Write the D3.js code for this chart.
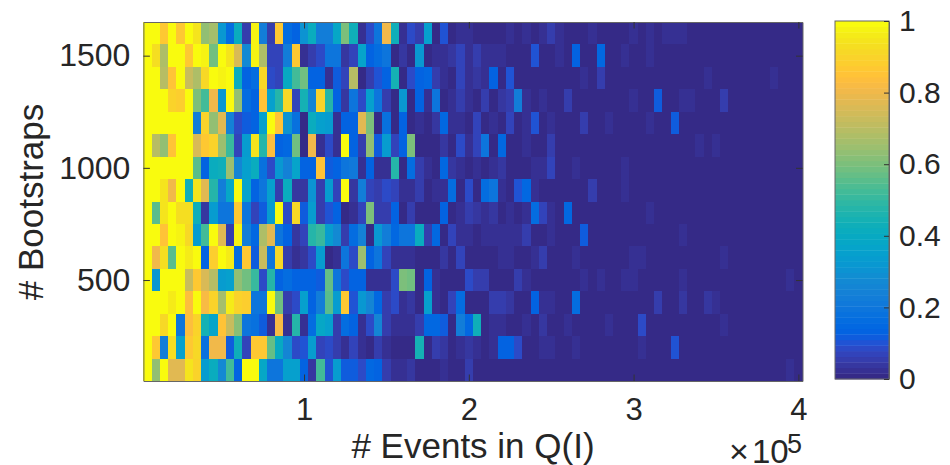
<!DOCTYPE html>
<html>
<head>
<meta charset="utf-8">
<script src="https://d3js.org/d3.v7.min.js"></script>
<style>
body { margin: 0; background: #fff; }
text { font-family: "Liberation Sans", Arial, sans-serif; fill: #262626; }
.axis path { stroke: #666; }
.axis line { stroke: #333; }
.axis text { font-size: 31px; fill: #262626; font-family: "Liberation Sans", Arial, sans-serif; }
</style>
</head>
<body>
<svg class="chart" width="950" height="465"></svg>
<script>
// bootstraps per row, top row first. each row has 80 event bins (5000, 10000 ... 400000)
var bootstraps = [1600,1500,1400,1300,1200,1100,1000,900,800,700,600,500,400,300,200,100];
var binSize = 5000;
var xTicks = [100000,200000,300000,400000];
var yTicks = [500,1000,1500];
var barTicks = [0,0.2,0.4,0.6,0.8,1];

var values = [
// 1600
[1,1,.87,1,.87,1,.95,.63,.66,.32,.17,.42,.05,.98,.22,.06,.87,.16,.14,.3,.42,.22,.22,.38,.6,.43,.02,.08,
 .2,.8,.43,.03,.09,.05,.35,.01,.1,.01,.02,.02,.005,.005,.005,.005,.02,.005,.02,.005,.02,.06,.02,.005,.005,.01,.02,
 0,0,0,0,.02,0,.02,0,.03,.03,.03,0,0,0,0,0,0,0,0,0,0,0,0,0,0],
// 1500
[1,.93,.68,1,1,.87,1,.97,.58,1,.95,.75,.28,.97,.68,.07,.07,.22,.87,.02,.06,.09,.2,.2,.04,.07,.36,.13,
 .17,.2,.01,.04,.01,.32,.005,.02,.02,.04,.07,.02,.05,.03,.03,.03,.01,0,0,.1,0,0,.02,0,.14,0,0,
 .15,0,0,.02,0,0,.02,0,0,0,0,0,0,0,0,0,0,0,0,0,0,0,0,0,0],
// 1400
[1,1,.7,.85,1,.72,.68,.92,1,.98,1,.42,.14,.16,.92,.08,.07,.4,.53,.58,.13,.13,.03,.11,.07,.7,.01,.06,
 .1,.13,.45,.005,.08,.13,.15,.05,.03,.01,.07,.02,.04,.03,.14,.01,.1,0,0,0,0,.01,0,0,0,.02,0,
 .05,0,0,0,0,0,0,0,0,0,0,0,0,.02,0,0,0,0,0,0,0,.02,0,0,0],
// 1300
[1,1,1,.9,.88,1,.6,.52,.8,.32,1,.64,.16,.14,.85,.35,.47,.92,.07,.45,.25,.9,.47,.13,.04,.2,.08,.35,
 .2,.05,.005,.32,.01,.13,.02,.19,.005,.02,.06,.03,.01,.06,.005,.04,.06,.22,.03,.005,.03,0,0,.06,0,0,0,
 0,0,0,0,.02,0,0,.11,0,0,.03,.02,0,0,0,.06,0,0,0,0,0,0,0,0,0],
// 1200
[1,1,1,1,1,1,.22,.9,.63,.77,.24,.09,.11,.13,.35,1,.85,.3,.18,.01,.42,.35,.34,.02,.13,.13,.78,.6,
 .01,.18,.01,.13,.005,.02,.01,.04,.15,.03,.03,.01,.07,.01,.03,.005,.07,.005,.03,.1,.01,.02,0,0,0,.05,0,
 0,.02,0,0,0,0,.02,0,0,.12,0,0,0,0,0,0,0,0,0,0,0,0,0,0,0],
// 1100
[1,.7,.63,.85,1,1,.75,.86,.9,.65,.5,.07,.33,.95,.48,.84,.13,.15,.58,.01,.8,.02,.08,.02,1,.13,.05,.64,
 .12,.33,.07,.14,.6,.005,.005,.005,.04,.005,.08,.03,.07,.19,0,.15,0,0,.02,0,0,.05,0,0,0,0,0,
 0,0,0,0,0,0,0,0,0,0,0,0,.02,0,.02,0,0,0,0,0,0,0,0,0,0],
// 1000
[1,1,1,1,1,1,.55,.14,.42,.43,.65,.25,.35,.41,.18,.08,.32,.24,.36,.13,.13,.85,.11,.13,.2,.21,.02,.13,
 .02,.03,.47,.005,.16,.05,.02,.005,.15,.04,.02,.01,.02,.01,.02,.04,0,0,0,.03,.03,.07,0,0,.02,0,0,
 0,0,0,.03,0,0,0,0,0,0,0,0,0,0,0,0,0,0,0,0,0,0,0,0,0],
// 900
[1,1,.95,.8,1,.43,.95,.78,.48,.22,.38,1,.37,.14,.2,.35,.05,.42,.04,.04,.3,.05,.33,.07,1,.04,.22,.07,
 .05,.08,.07,.02,.02,.06,.005,.02,.03,.17,.01,.09,.005,.17,.2,.02,0,.1,.15,.03,0,0,.01,0,0,0,.05,
 0,0,0,.03,0,0,0,0,0,0,0,0,0,0,0,0,0,0,0,0,0,0,0,0,0],
// 800
[1,.55,.95,1,.93,.93,.43,.04,.33,.2,.2,.87,.2,.07,.12,.33,1,.09,.92,.11,.33,.05,.1,.14,.01,.03,.07,.6,
 .05,.05,.14,.01,.05,.005,.005,.005,.14,.005,.02,.05,.04,.02,.04,.005,.03,.01,.02,.16,.07,.02,.005,.15,0,0,0,
 0,0,0,0,0,0,.02,0,0,0,0,0,0,0,0,0,0,0,0,0,0,0,0,0,0],
// 700
[1,1,.85,1,.97,.92,.33,.52,1,.77,.06,.97,.22,.15,.68,.77,.2,.14,.04,.07,.47,.5,.33,.27,.06,.16,.24,.005,
 .32,.22,.15,.2,.2,.42,.05,.15,.005,.07,.03,.02,.01,.02,.02,.025,.025,.02,.05,0,0,.02,0,0,.01,.11,0,
 0,0,0,0,0,0,0,0,0,0,.02,0,0,0,0,0,0,0,0,0,0,0,0,0,0],
// 600
[1,.8,.93,.55,1,.96,1,.13,.88,1,.96,.17,.87,.11,.72,.2,.91,.05,.02,.04,.09,.33,.01,.03,.2,.08,.65,.14,
 .2,.07,.025,.02,.02,.01,.005,.005,.04,.005,.07,0,0,0,0,.02,.02,0,0,.02,.05,.005,0,0,.03,0,0,
 0,0,0,0,.02,.02,0,0,0,0,0,0,0,0,0,.02,0,0,0,0,0,0,0,0,0],
// 500
[1,.32,1,1,1,.72,.86,.76,.7,.34,.35,.64,.58,.5,.08,.47,.14,.16,.13,.13,.13,.11,.57,.2,.09,.13,.13,.02,
 .02,.02,.08,.6,.58,.005,.14,.02,.005,.005,.005,.09,.05,.05,0,0,0,.05,.02,.005,.005,0,0,0,0,.02,0,
 .02,0,0,.03,.03,0,0,0,0,0,.02,0,0,0,0,0,0,0,0,0,0,0,0,.02,0],
// 400
[1,1,1,.96,1,.83,1,.82,.9,.67,.96,.9,.88,.2,.19,1,.58,.06,.09,.35,.13,.22,.55,.34,.87,.1,.32,.25,
 .15,.05,.08,.02,.04,.01,.35,.03,.005,.07,.16,0,0,0,.05,.05,.035,0,0,.13,.02,.02,0,0,.17,0,0,
 0,0,0,0,0,0,0,.05,0,0,.035,0,0,.04,.025,0,0,0,0,0,0,0,0,0,0],
// 300
[1,1,.92,1,.2,.84,.9,.44,.36,.85,.72,.62,.2,.18,.11,.02,.82,.03,.47,.03,.17,.38,.35,.05,.16,.14,.02,.09,
 .25,.06,.02,.02,.02,.06,.15,.15,.11,.005,.22,.15,.43,0,.02,.03,0,0,.03,0,.035,0,0,.02,0,0,0,
 0,.02,0,0,0,.09,0,0,0,0,0,0,0,0,0,.02,0,0,0,0,0,0,0,0,0],
// 200
[1,.87,.22,.93,.35,.87,.91,.18,.8,.8,.11,.43,.07,.86,.86,.57,.4,.26,.08,.1,.33,.07,.08,.05,.02,.07,.02,.005,
 .06,.02,.005,.005,.005,.45,.005,.05,.04,.005,.02,.035,.02,0,.02,.14,.13,.08,0,.01,.025,.02,0,0,.02,0,0,
 0,0,0,0,0,.025,0,0,0,.1,0,0,0,0,0,0,0,0,0,0,0,0,0,0,0],
// 100
[1,.63,1,.78,.78,.94,.9,.33,.42,.27,.52,.13,1,1,.38,.2,.2,.35,.35,.14,.04,.52,.1,.33,.11,.11,.08,.15,
 .13,.05,.03,.025,.035,0,0,0,.02,0,0,.05,0,0,0,0,0,0,0,0,0,0,0,0,0,0,0,
 0,0,0,0,0,0,0,0,0,0,0,0,0,0,0,0,0,0,0,0,0,0,0,.02,0]
];

// matlab parula, 64 steps
var parula = [[.2081,.1663,.5292],[.2116,.1898,.5777],[.2123,.2138,.6270],[.2081,.2386,.6771],
[.1959,.2645,.7279],[.1707,.2919,.7792],[.1253,.3242,.8303],[.0591,.3598,.8683],
[.0117,.3875,.8820],[.0060,.4086,.8828],[.0165,.4266,.8786],[.0329,.4430,.8720],
[.0498,.4586,.8641],[.0629,.4737,.8554],[.0723,.4887,.8467],[.0779,.5040,.8384],
[.0793,.5200,.8312],[.0749,.5375,.8263],[.0641,.5570,.8240],[.0488,.5772,.8228],
[.0343,.5966,.8199],[.0265,.6137,.8135],[.0239,.6287,.8038],[.0231,.6418,.7913],
[.0228,.6535,.7768],[.0267,.6642,.7607],[.0384,.6743,.7436],[.0590,.6838,.7254],
[.0843,.6928,.7062],[.1133,.7015,.6859],[.1453,.7098,.6646],[.1801,.7177,.6424],
[.2178,.7250,.6193],[.2586,.7317,.5954],[.3022,.7376,.5712],[.3482,.7424,.5473],
[.3953,.7459,.5244],[.4420,.7481,.5033],[.4871,.7491,.4840],[.5300,.7491,.4661],
[.5709,.7485,.4494],[.6099,.7473,.4337],[.6473,.7456,.4188],[.6834,.7435,.4044],
[.7184,.7411,.3905],[.7525,.7384,.3768],[.7858,.7356,.3633],[.8185,.7327,.3498],
[.8507,.7299,.3360],[.8824,.7274,.3217],[.9139,.7258,.3063],[.9450,.7261,.2886],
[.9739,.7314,.2666],[.9938,.7455,.2403],[.9990,.7653,.2164],[.9955,.7861,.1967],
[.9880,.8066,.1794],[.9789,.8271,.1633],[.9697,.8481,.1475],[.9626,.8705,.1309],
[.9589,.8949,.1132],[.9598,.9218,.0948],[.9661,.9514,.0755],[.9763,.9831,.0538]];
var parulaColors = parula.map(function(c) {
    return d3.rgb(c[0]*255, c[1]*255, c[2]*255).formatHex();
});

var plot = {left: 143.4, right: 802.5, top: 22, bottom: 381};
var bar = {left: 835, right: 889, top: 21, bottom: 379};

var x = d3.scaleLinear().domain([2500, 402500]).range([plot.left, plot.right]);
var y = d3.scaleLinear().domain([50, 1650]).range([plot.bottom, plot.top]);
var color = d3.scaleQuantize().domain([0, 1]).range(parulaColors);
var barY = d3.scaleLinear().domain([0, 1]).range([bar.bottom, bar.top]);

var chart = d3.select('.chart');

// heatmap cells
values.forEach(function(row, r) {
    chart.append('g').selectAll('rect')
        .data(row)
        .enter().append('rect')
        .attr('x', function(d, i) { return x((i + 1) * binSize - binSize / 2); })
        .attr('y', y(bootstraps[r] + 50))
        .attr('width', x(binSize) - x(0))
        .attr('height', y(0) - y(100))
        .attr('shape-rendering', 'crispEdges')
        .style('fill', function(d) { return color(d); });
});

// axes, box on so ticks on all four sides pointing in
var tickLen = 6.5;
function boxAxis(axis, tx, ty) {
    return chart.append('g')
        .attr('class', 'axis')
        .attr('transform', 'translate(' + tx + ',' + ty + ')')
        .call(axis);
}

boxAxis(d3.axisBottom(x).tickValues(xTicks).tickSizeInner(-tickLen).tickSizeOuter(0)
    .tickPadding(17).tickFormat(function(d) { return d / 100000; }), 0, plot.bottom);
boxAxis(d3.axisTop(x).tickValues(xTicks).tickSizeInner(-tickLen).tickSizeOuter(0)
    .tickFormat(''), 0, plot.top);
boxAxis(d3.axisLeft(y).tickValues(yTicks).tickSizeInner(-tickLen).tickSizeOuter(0)
    .tickPadding(13).tickFormat(d3.format('d')), plot.left, 0)
    .selectAll('text').style('font-size', '32px');
boxAxis(d3.axisRight(y).tickValues(yTicks).tickSizeInner(-tickLen).tickSizeOuter(0)
    .tickFormat(''), plot.right, 0);

// colorbar
chart.append('g').selectAll('rect')
    .data(parulaColors)
    .enter().append('rect')
    .attr('x', bar.left)
    .attr('y', function(d, i) { return barY((i + 1) / 64); })
    .attr('width', bar.right - bar.left)
    .attr('height', (bar.bottom - bar.top) / 64 + 0.4)
    .style('fill', function(d) { return d; });

chart.append('rect')
    .attr('x', bar.left).attr('y', bar.top)
    .attr('width', bar.right - bar.left).attr('height', bar.bottom - bar.top)
    .style('fill', 'none').style('stroke', '#666');

boxAxis(d3.axisRight(barY).tickValues(barTicks).tickSizeOuter(0).tickSizeInner(-5)
    .tickPadding(10).tickFormat(d3.format('~g')), bar.right, 0)
    .selectAll('text').style('font-size', '30px');

// labels
chart.append('text')
    .attr('x', 473).attr('y', 458)
    .attr('text-anchor', 'middle')
    .style('font-size', '35px')
    .text('# Events in Q(I)');

chart.append('text')
    .attr('transform', 'translate(43,202) rotate(-90)')
    .attr('text-anchor', 'middle')
    .style('font-size', '35px')
    .text('# Bootstraps');

// axis exponent, pieces placed one by one
chart.append('text').attr('x', 729).attr('y', 463).style('font-size', '34px').text('\u00d7');
chart.append('text').attr('x', 752).attr('y', 463).style('font-size', '33px').text('10');
chart.append('text').attr('x', 787).attr('y', 453).style('font-size', '27px').text('5');
</script>
</body>
</html>
